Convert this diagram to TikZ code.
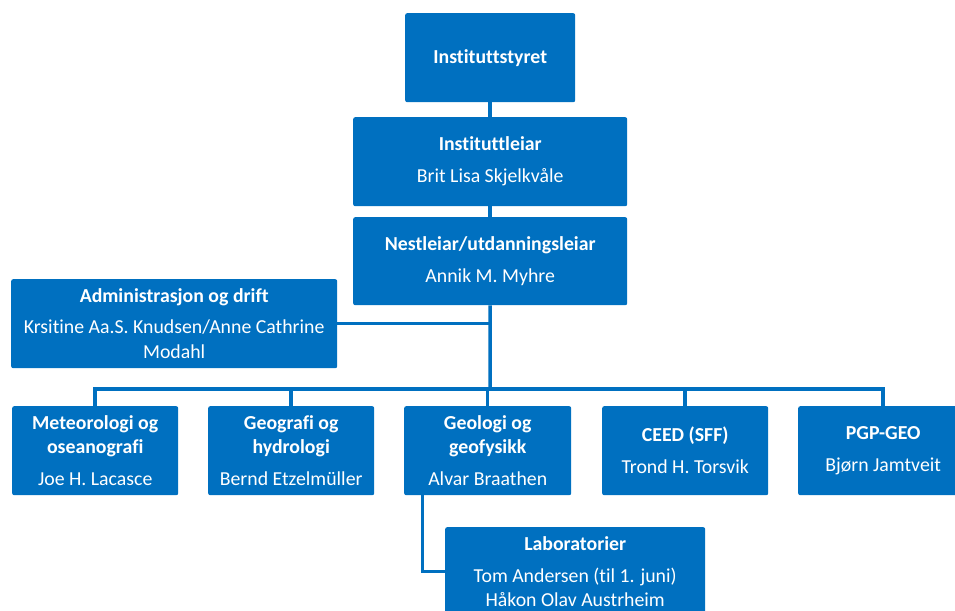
\documentclass[tikz,border=0pt]{standalone}
\usepackage{fontspec}
\setmainfont{Carlito}[Ligatures=NoCommon]
\definecolor{orgblue}{HTML}{0070C0}
\begin{document}
\begin{tikzpicture}[x=1pt,y=-1pt,
  box/.style 2 args={fill=orgblue, rounded corners=2pt, anchor=north west,
    minimum width=#1, minimum height=#2, text=white, align=center, inner sep=0pt,
    font=\fontsize{19.8}{24}\selectfont},
  link/.style={draw=orgblue, line width=3.5pt, line join=miter}]
\clip (0,0) rectangle (955,610);
\fill[white] (0,0) rectangle (955,610);

\node[box={170pt}{89pt}] (styret) at (405,13) {\textbf{Instituttstyret}};
\node[box={274pt}{89pt}] (leiar) at (353,117) {\textbf{Instituttleiar}\\[8pt]Brit Lisa Skjelkvåle};
\node[box={274pt}{88pt}] (nest) at (353,217) {\textbf{Nestleiar/utdanningsleiar}\\[8pt]Annik M. Myhre};
\node[box={326pt}{89pt}] (adm) at (11,279) {\textbf{Administrasjon og drift}\\[7pt]Krsitine Aa.S. Knudsen/Anne Cathrine\\[1pt]Modahl};
\node[box={166pt}{89pt}] (met) at (12,406) {\textbf{Meteorologi og}\\\textbf{oseanografi}\\[8pt]Joe H. Lacasce};
\node[box={166pt}{89pt}] (geo) at (208,406) {\textbf{Geografi og}\\\textbf{hydrologi}\\[8pt]Bernd Etzelmüller};
\node[box={167pt}{89pt}] (geol) at (404,406) {\textbf{Geologi og}\\\textbf{geofysikk}\\[8pt]Alvar Braathen};
\node[box={166pt}{89pt}] (ceed) at (602,406) {\textbf{CEED (SFF)}\\[8pt]Trond H. Torsvik};
\node[box={170pt}{89pt}] (pgp) at (798,406) {\textbf{PGP-GEO}\\[8pt]Bjørn Jamtveit};
\node[box={260pt}{89pt}] (lab) at (445,527) {\textbf{Laboratorier}\\[8pt]Tom Andersen (til 1. juni)\\Håkon Olav Austrheim};

\coordinate (bus) at (490,389);

\draw[link] (styret.south) -- (leiar.north);
\draw[link] (leiar.south) -- (nest.north);
\draw[link] (nest.south) -- (bus);
\draw[link] (adm.east) -- (adm.east -| bus);
\draw[link] (met.north) -- (met.north |- bus) -- (pgp.north |- bus) -- (pgp.north);
\draw[link] (geo.north) -- (geo.north |- bus);
\draw[link] (geol.north) -- (geol.north |- bus);
\draw[link] (ceed.north) -- (ceed.north |- bus);
\draw[link] ([xshift=-65pt]geol.south) |- (lab.west);
\end{tikzpicture}
\end{document}
